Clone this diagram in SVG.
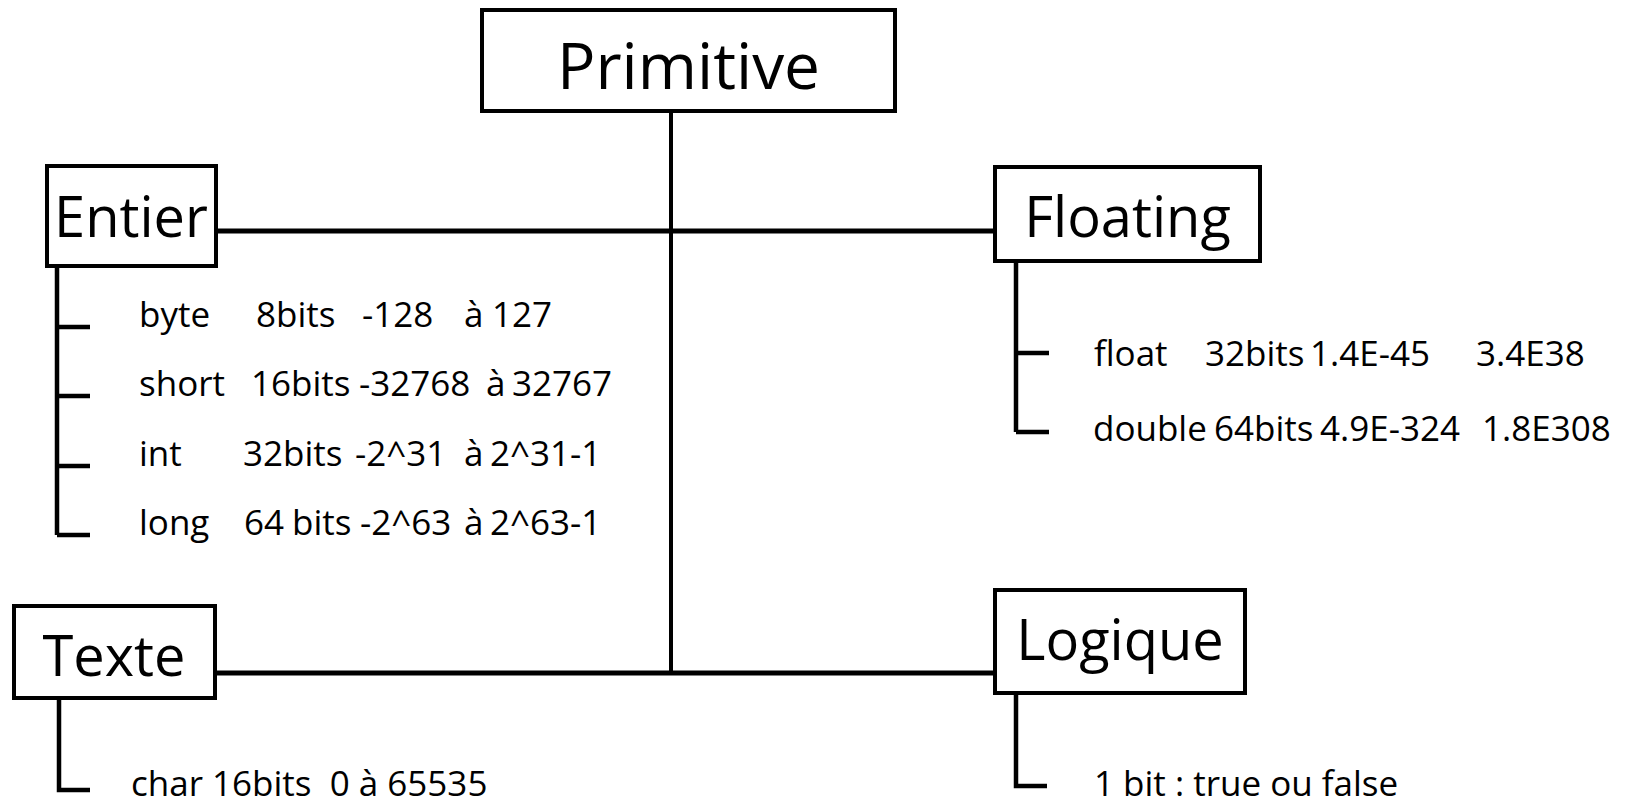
<svg xmlns="http://www.w3.org/2000/svg" width="1629" height="806" viewBox="0 0 1629 806">
  <style>
    .box { fill: #ffffff; stroke: #000000; stroke-width: 4; }
    .title { font-family: "Open Sans", "Noto Sans", "Liberation Sans", sans-serif; font-size: 56px; fill: #000000; text-anchor: middle; }
    .root { font-size: 64px; }
    .item { font-family: "Open Sans", "Noto Sans", "Liberation Sans", sans-serif; font-size: 35px; fill: #000000; }
    .wire { fill: none; stroke: #000000; stroke-width: 4.5; stroke-linecap: butt; stroke-linejoin: miter; }
    .trunk { fill: none; stroke: #000000; stroke-width: 4; }
  </style>

  <!-- connectors -->
  <g id="connectors">
    <!-- central trunk from Primitive down to the lower bar -->
    <line class="trunk" x1="671" y1="111" x2="671" y2="673"/>
    <!-- upper bar: Entier to Floating -->
    <line class="wire" x1="216" y1="231" x2="1003" y2="231" style="stroke-width:5"/>
    <!-- lower bar: Texte to Logique -->
    <line class="wire" x1="208" y1="673" x2="995" y2="673" style="stroke-width:5"/>
    <!-- Entier list bracket -->
    <path class="wire" d="M57 260 V535 M57 327 H90 M57 396 H90 M57 466 H90 M57 535 H90"/>
    <!-- Floating list bracket -->
    <path class="wire" d="M1016 263 V432 M1016 353 H1049 M1016 432 H1049"/>
    <!-- Texte list bracket -->
    <path class="wire" d="M59 700 V790 H90"/>
    <!-- Logique list bracket -->
    <path class="wire" d="M1016 695 V786 H1047"/>
  </g>

  <g id="primitive">
    <rect class="box" x="482" y="10" width="413" height="101"/>
    <text class="title root" x="688.5" y="89">Primitive</text>
  </g>

  <g id="entier">
    <rect class="box" x="47" y="166" width="169" height="100"/>
    <text class="title" x="131" y="237">Entier</text>
  </g>

  <g id="floating">
    <rect class="box" x="995" y="167" width="265" height="94"/>
    <text class="title" x="1127.5" y="237">Floating</text>
  </g>

  <g id="texte">
    <rect class="box" x="14" y="606" width="201" height="92"/>
    <text class="title" x="114" y="676">Texte</text>
  </g>

  <g id="logique">
    <rect class="box" x="995" y="590" width="250" height="103"/>
    <text class="title" x="1120" y="660">Logique</text>
  </g>

  <g id="entier-items">
    <text class="item" y="327"><tspan x="139">byte</tspan><tspan x="256">8bits</tspan><tspan x="362">-128</tspan><tspan x="464">à</tspan><tspan x="492">127</tspan></text>
    <text class="item" y="396"><tspan x="139">short</tspan><tspan x="251">16bits</tspan><tspan x="359">-32768</tspan><tspan x="486">à</tspan><tspan x="512">32767</tspan></text>
    <text class="item" y="466"><tspan x="139">int</tspan><tspan x="243">32bits</tspan><tspan x="355">-2^31</tspan><tspan x="464">à</tspan><tspan x="490">2^31-1</tspan></text>
    <text class="item" y="535"><tspan x="139">long</tspan><tspan x="244">64</tspan><tspan x="292">bits</tspan><tspan x="360">-2^63</tspan><tspan x="464">à</tspan><tspan x="490">2^63-1</tspan></text>
  </g>

  <g id="floating-items">
    <text class="item" y="366"><tspan x="1094">float</tspan><tspan x="1205">32bits</tspan><tspan x="1310">1.4E-45</tspan><tspan x="1476">3.4E38</tspan></text>
    <text class="item" y="441"><tspan x="1093">double</tspan><tspan x="1214">64bits</tspan><tspan x="1320">4.9E-324</tspan><tspan x="1482">1.8E308</tspan></text>
  </g>

  <g id="texte-items">
    <text class="item" x="131" y="796" xml:space="preserve">char 16bits  0 à 65535</text>
  </g>

  <g id="logique-items">
    <text class="item" x="1094" y="796" xml:space="preserve">1 bit : true ou false</text>
  </g>
</svg>
